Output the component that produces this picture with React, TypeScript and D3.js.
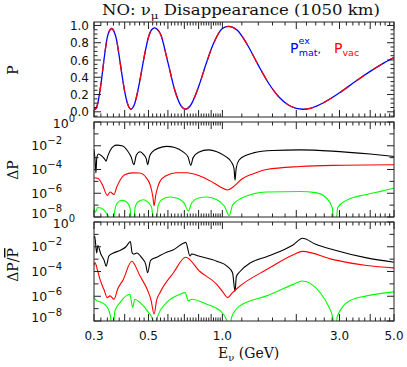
import React from "react";
import * as d3 from "d3";

// ---------- data ----------
const xTickLabels = [0.3, 0.5, 1.0, 3.0, 5.0];
const xMajorTicks = [0.3, 0.4, 0.5, 0.6, 0.7, 0.8, 0.9, 1, 2, 3, 4, 5];
const pTickLabels = [0, 0.2, 0.4, 0.6, 0.8, 1.0];
const logTickExps = [0, -2, -4, -6, -8];

// Panel 1: survival probability (matter exact and vacuum overlap)
const pMat: [number, number][] = [
  [0.3, 0.044], [0.303, 0.03], [0.31, 0.085], [0.32, 0.316], [0.33, 0.619], [0.34, 0.866],
  [0.347, 0.94], [0.354, 0.965], [0.362, 0.93], [0.37, 0.844], [0.38, 0.644], [0.39, 0.428],
  [0.4, 0.237], [0.41, 0.103], [0.417, 0.05], [0.424, 0.03], [0.432, 0.05], [0.44, 0.1],
  [0.46, 0.344], [0.48, 0.633], [0.5, 0.863], [0.515, 0.95], [0.53, 0.972], [0.545, 0.95],
  [0.56, 0.898], [0.6, 0.572], [0.64, 0.25], [0.68, 0.065], [0.707, 0.03], [0.74, 0.07],
  [0.8, 0.29], [0.86, 0.563], [0.92, 0.79], [1.0, 0.965], [1.06, 0.99], [1.15, 0.944],
  [1.25, 0.8], [1.4, 0.54], [1.55, 0.322], [1.7, 0.171], [1.85, 0.081], [2.0, 0.039],
  [2.12, 0.03], [2.3, 0.044], [2.6, 0.11], [3.0, 0.22], [3.5, 0.356], [4.0, 0.468],
  [4.5, 0.558], [5.0, 0.628],
];
const pVac: [number, number][] = pMat;

// Panel 2: log10 of Delta P
const dpBlack: [number, number][] = [
  [0.3, -2.3], [0.303, -3.2], [0.3055, -4.3], [0.308, -3.0], [0.313, -2.7], [0.322, -2.85],
  [0.331, -3.1], [0.336, -3.3], [0.341, -2.9], [0.35, -2.35], [0.36, -2.05], [0.371, -1.95],
  [0.39, -2.0], [0.41, -2.4], [0.425, -2.95], [0.436, -3.6], [0.446, -2.8], [0.462, -2.5],
  [0.478, -2.75], [0.49, -3.1], [0.496, -3.6], [0.505, -2.9], [0.52, -2.5], [0.55, -2.2],
  [0.593, -2.05], [0.64, -2.15], [0.69, -2.5], [0.725, -2.95], [0.743, -3.65], [0.76, -3.0],
  [0.8, -2.55], [0.877, -2.35], [0.95, -2.5], [1.03, -2.9], [1.09, -3.4], [1.115, -3.9],
  [1.126, -4.9], [1.138, -3.9], [1.17, -3.2], [1.25, -2.8], [1.337, -2.6], [1.6, -2.4],
  [2.07, -2.35], [2.8, -2.45], [4.0, -2.7], [5.0, -2.9],
];
const dpRed: [number, number][] = [
  [0.3, -4.7], [0.312, -4.75], [0.325, -5.3], [0.34, -6.18], [0.349, -5.9], [0.362, -6.1],
  [0.371, -5.5], [0.383, -4.9], [0.4, -4.45], [0.43, -4.28], [0.46, -4.3], [0.49, -4.7],
  [0.51, -5.4], [0.521, -6.3], [0.527, -7.05], [0.535, -6.2], [0.545, -5.5], [0.557, -5.0],
  [0.593, -4.5], [0.65, -4.28], [0.716, -4.27], [0.8, -4.5], [0.9, -5.0], [0.978, -5.45],
  [1.051, -5.72], [1.108, -5.45], [1.2, -4.8], [1.337, -4.35], [1.515, -4.0], [2.07, -3.75],
  [2.83, -3.65], [5.0, -3.6],
];
const dpGreen: [number, number][] = [
  [0.3, -7.1], [0.304, -7.6], [0.31, -7.2], [0.32, -7.25], [0.335, -7.6], [0.347, -8.2],
  [0.3564, -9.5], [0.365, -7.4], [0.374, -6.8], [0.389, -6.6], [0.405, -6.7], [0.42, -7.2],
  [0.431, -9.5], [0.442, -7.1], [0.455, -6.7], [0.477, -6.55], [0.495, -6.7], [0.515, -7.2],
  [0.532, -9.5], [0.548, -7.0], [0.57, -6.5], [0.612, -6.32], [0.66, -6.45], [0.7, -6.85],
  [0.727, -7.5], [0.75, -6.8], [0.8, -6.4], [0.863, -6.32], [0.95, -6.55], [1.02, -7.1],
  [1.067, -7.87], [1.1, -7.0], [1.2, -6.4], [1.337, -6.05], [1.515, -5.9], [2.07, -5.85],
  [2.4, -5.95], [2.65, -6.4], [2.8, -7.2], [2.876, -9.5], [2.95, -7.2], [3.2, -6.6],
  [3.87, -6.1], [4.5, -5.8], [5.0, -5.56],
];

// Panel 3: log10 of Delta P / mean P
const rBlack: [number, number][] = [
  [0.3, -1.3], [0.302, -1.15], [0.3077, -2.5], [0.311, -1.9], [0.32, -2.6], [0.33, -3.1],
  [0.336, -3.57], [0.345, -2.75], [0.36, -2.5], [0.383, -2.3], [0.405, -2.0], [0.422, -1.58],
  [0.429, -2.5], [0.436, -2.6], [0.448, -2.5], [0.47, -2.9], [0.487, -3.4], [0.496, -4.1],
  [0.51, -3.1], [0.54, -2.85], [0.593, -2.45], [0.632, -2.24], [0.693, -1.72], [0.709, -1.65],
  [0.738, -2.75], [0.75, -2.58], [0.8, -2.75], [0.949, -3.17], [1.05, -3.6], [1.1, -4.1],
  [1.126, -5.6], [1.14, -4.4], [1.18, -4.0], [1.3, -3.3], [1.515, -2.8], [1.75, -2.3],
  [1.946, -1.84], [2.118, -1.31], [2.4, -1.8], [2.83, -2.24], [3.87, -2.9], [5.0, -3.25],
];
const rRed: [number, number][] = [
  [0.3, -3.5], [0.303, -3.3], [0.31, -3.9], [0.3174, -4.64], [0.33, -5.5], [0.34, -6.11],
  [0.3486, -5.97], [0.362, -6.24], [0.375, -5.4], [0.395, -4.64], [0.427, -3.17], [0.462, -4.37],
  [0.494, -5.44], [0.512, -6.3], [0.527, -7.44], [0.54, -6.3], [0.557, -5.71], [0.632, -4.1],
  [0.709, -2.85], [0.81, -4.0], [0.949, -5.04], [1.0, -5.6], [1.051, -6.11], [1.1, -5.7],
  [1.18, -5.17], [1.515, -3.84], [1.946, -2.64], [2.118, -2.37], [2.83, -3.04], [3.87, -3.52],
  [5.0, -3.71],
];
const rGreen: [number, number][] = [
  [0.3, -6.11], [0.3076, -6.37], [0.3174, -6.45], [0.34, -6.9], [0.35, -7.6], [0.3564, -9.5],
  [0.365, -7.2], [0.383, -6.51], [0.42, -5.84], [0.431, -6.9], [0.44, -6.24], [0.462, -6.51],
  [0.5, -7.3], [0.52, -7.9], [0.532, -9.5], [0.545, -7.6], [0.593, -6.51], [0.672, -5.84],
  [0.705, -5.71], [0.727, -6.37], [0.75, -6.24], [0.863, -6.64], [0.978, -7.17], [1.04, -7.9],
  [1.067, -9.5], [1.09, -7.7], [1.18, -6.77], [1.515, -5.97], [1.946, -5.04], [2.118, -4.77],
  [2.5, -5.71], [2.7, -6.77], [2.82, -7.8], [2.876, -9.5], [2.94, -7.6], [3.3, -6.37],
  [3.87, -5.97], [5.0, -5.65],
];

// ---------- layout ----------
const X0 = 94;
const X1 = 394;
const P1: [number, number] = [22, 117];
const P2: [number, number] = [122, 217];
const P3: [number, number] = [222, 321];

const x = d3.scaleLog().domain([0.3, 5]).range([X0, X1]);
const yP = d3.scaleLinear().domain([-0.06, 1.04]).range([P1[1], P1[0]]);
const yD = d3.scaleLog().domain([1e-8, 1]).range([P2[1], P2[0]]);
const yR = d3.scaleLog().domain([1e-8, 1]).range([P3[1], P3[0]]);

const xMinorTicks = [
  ...d3.range(0.32, 0.999, 0.02).filter((v) => Math.abs(v * 10 - Math.round(v * 10)) > 1e-6),
  ...d3.range(1.2, 4.9, 0.2).filter((v) => Math.abs(v - Math.round(v)) > 1e-6),
];
const pMinorTicks = d3.range(-0.05, 1.04, 0.05).filter((v) => Math.abs(v * 5 - Math.round(v * 5)) > 1e-6);

const FONT_SANS = "DejaVu Sans, sans-serif";
const FONT_SERIF = "DejaVu Serif, serif";

function linePath(data: [number, number][], y: (v: number) => number, isLog: boolean) {
  const gen = d3
    .line<[number, number]>()
    .x((d) => x(d[0]))
    .y((d) => (isLog ? y(Math.pow(10, d[1])) : y(d[1])))
    .curve(d3.curveMonotoneX);
  return gen(data) || "";
}

function Frame({ top, bottom, yTicks }: { top: number; bottom: number; yTicks: { y: number; len: number }[] }) {
  const ML = 7;
  const mn = 3.5;
  const els: React.ReactNode[] = [];
  xMajorTicks.forEach((v, i) => {
    const xx = x(v);
    els.push(<line key={"xb" + i} x1={xx} x2={xx} y1={bottom} y2={bottom - ML} />);
    els.push(<line key={"xt" + i} x1={xx} x2={xx} y1={top} y2={top + ML} />);
  });
  xMinorTicks.forEach((v, i) => {
    const xx = x(v);
    els.push(<line key={"mb" + i} x1={xx} x2={xx} y1={bottom} y2={bottom - mn} />);
    els.push(<line key={"mt" + i} x1={xx} x2={xx} y1={top} y2={top + mn} />);
  });
  yTicks.forEach((t, i) => {
    els.push(<line key={"yl" + i} x1={X0} x2={X0 + t.len} y1={t.y} y2={t.y} />);
    els.push(<line key={"yr" + i} x1={X1} x2={X1 - t.len} y1={t.y} y2={t.y} />);
  });
  return (
    <g stroke="#222" strokeWidth={1} fill="none">
      {els}
      <rect x={X0} y={top} width={X1 - X0} height={bottom - top} />
    </g>
  );
}

function LogLabels({ y, skipTop }: { y: (v: number) => number; skipTop?: boolean }) {
  return (
    <g fontFamily={FONT_SANS} fill="#111">
      {logTickExps.map((e) => {
        const yy = y(Math.pow(10, e));
        const exp = e === 0 ? "0" : "\u2212" + Math.abs(e);
        const dyBase = e === -8 ? 1 : e === 0 ? 6 : 4.5;
        return (
          <text key={e} x={e === 0 ? 75 : 62} y={yy + dyBase} textAnchor="end" fontSize={12.5}>
            10
            <tspan fontSize={10} dy={-6}>
              {exp}
            </tspan>
          </text>
        );
      })}
    </g>
  );
}

export default function App() {
  const logTicks = (y: (v: number) => number) =>
    d3.range(0, -9, -1).map((e) => ({ y: y(Math.pow(10, e)), len: e % 2 === 0 ? 7 : 4.5 }));
  const pTicks = [
    ...pTickLabels.map((v) => ({ y: yP(v), len: 7 })),
    ...pMinorTicks.map((v) => ({ y: yP(v), len: 3.5 })),
  ];
  return (
    <svg width={407} height={367} style={{ display: "block", position: "absolute", left: 0, top: 0 }}>
      <rect width={407} height={367} fill="#fff" />
      <defs>
        {[P1, P2, P3].map((p, i) => (
          <clipPath id={"clip" + i} key={i}>
            <rect x={X0} y={p[0]} width={X1 - X0} height={p[1] - p[0]} />
          </clipPath>
        ))}
      </defs>

      {/* title */}
      <text x={102} y={15} fontFamily={FONT_SERIF} fontSize={14} fill="#111" textLength={278} lengthAdjust="spacingAndGlyphs">
        NO: ν<tspan fontSize={10} dy={4}>μ</tspan>
        <tspan dy={-4}> Disappearance (1050 km)</tspan>
      </text>

      {/* panel 1 */}
      <g clipPath="url(#clip0)" fill="none" strokeWidth={1.3}>
        <path d={linePath(pMat, yP, false)} stroke="#0000ff" />
        <path d={linePath(pVac, yP, false)} stroke="#ff0000" strokeDasharray="10 10" />
      </g>
      <Frame top={P1[0]} bottom={P1[1]} yTicks={pTicks} />
      <g fontFamily={FONT_SANS} fontSize={12} fill="#111">
        {pTickLabels.map((v) => (
          <text key={v} x={89} y={yP(v) + 4.5} textAnchor="end">
            {v.toFixed(1)}
          </text>
        ))}
      </g>
      <g fontFamily={FONT_SANS}>
        <text x={290} y={53} fontSize={14} fill="#0000ff">
          P
          <tspan fontSize={9.5} dy={-9}>ex</tspan>
          <tspan fontSize={9.5} dx={-11} dy={12}>mat</tspan>
          <tspan fontSize={11} dy={-3}>,</tspan>
        </text>
        <text x={334} y={53} fontSize={14} fill="#ff0000">
          P<tspan fontSize={9.5} dy={3}>vac</tspan>
        </text>
      </g>
      <text transform="translate(18,70) rotate(-90)" textAnchor="middle" fontFamily={FONT_SERIF} fontSize={14} fill="#111">
        P
      </text>

      {/* panel 2 */}
      <g clipPath="url(#clip1)" fill="none" strokeWidth={1.1}>
        <path d={linePath(dpBlack, yD, true)} stroke="#000" />
        <path d={linePath(dpRed, yD, true)} stroke="#ff0000" />
        <path d={linePath(dpGreen, yD, true)} stroke="#00ff00" />
      </g>
      <Frame top={P2[0]} bottom={P2[1]} yTicks={logTicks(yD)} />
      <LogLabels y={yD} />
      <text transform="translate(18,170) rotate(-90)" textAnchor="middle" fontFamily={FONT_SERIF} fontSize={14} fill="#111">
        ΔP
      </text>

      {/* panel 3 */}
      <g clipPath="url(#clip2)" fill="none" strokeWidth={1.1}>
        <path d={linePath(rBlack, yR, true)} stroke="#000" />
        <path d={linePath(rRed, yR, true)} stroke="#ff0000" />
        <path d={linePath(rGreen, yR, true)} stroke="#00ff00" />
      </g>
      <Frame top={P3[0]} bottom={P3[1]} yTicks={logTicks(yR)} />
      <LogLabels y={yR} />
      <text transform="translate(18,265) rotate(-90)" textAnchor="middle" fontFamily={FONT_SERIF} fontSize={14} fill="#111">
        ΔP/<tspan textDecoration="overline" style={{ textDecoration: "overline" }}>P</tspan>
      </text>

      {/* x axis labels */}
      <g fontFamily={FONT_SANS} fontSize={12} fill="#111">
        {xTickLabels.map((v) => (
          <text key={v} x={x(v)} y={340} textAnchor="middle">
            {v.toFixed(1)}
          </text>
        ))}
      </g>
      <text x={218} y={358} fontFamily={FONT_SERIF} fontSize={14} fill="#111">
        E<tspan fontSize={10} dy={3}>ν</tspan>
        <tspan dy={-3}> (GeV)</tspan>
      </text>
    </svg>
  );
}
